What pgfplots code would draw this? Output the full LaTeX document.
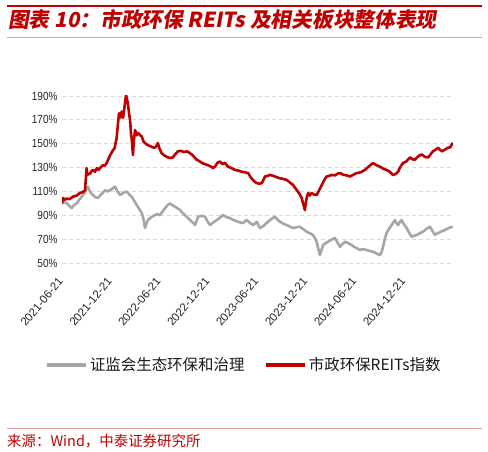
\documentclass[border=0pt]{standalone}
\usepackage{fontspec}
\setmainfont{Liberation Sans}
\newfontfamily\cjk{Noto Sans CJK SC}
\newfontfamily\cjktitle[FakeSlant=0.18]{Noto Sans CJK SC}
\newfontfamily\narrow[FakeStretch=0.85]{Liberation Sans}
\usepackage{pgfplots}
\pgfplotsset{compat=1.18}
\definecolor{reitred}{HTML}{C00000}
\definecolor{envgrey}{HTML}{A6A6A6}
\definecolor{gridgrey}{HTML}{D9D9D9}
\definecolor{titlered}{HTML}{C00000}
\definecolor{rulepink}{HTML}{E39A9A}

\begin{document}
\begin{tikzpicture}
\path[use as bounding box] (0bp,0bp) rectangle (488bp,452bp);
% header
\draw[titlered, line width=2.3bp] (7bp,446bp) -- (482bp,446bp);
\node[anchor=base west, inner sep=0, text=titlered, font=\fontsize{20.8}{20.8}\selectfont]
  at (8bp,424bp) {\cjktitle\bfseries 图表 {\bfseries\itshape 10}：市政环保 {\bfseries\itshape REITs} 及相关板块整体表现};
\draw[rulepink, line width=0.8bp] (7bp,414.5bp) -- (482bp,414.5bp);

\begin{axis}[
  at={(62bp,189bp)}, anchor=south west,
  width=391bp, height=167bp, scale only axis,
  xmin=0, xmax=1460, ymin=50, ymax=190,
  axis line style={draw=none},
  tick style={draw=none},
  ymajorgrids,
  grid style={gridgrey, line width=0.9bp, dash pattern=on 4bp off 3bp},
  ytick={50,70,90,110,130,150,170,190},
  yticklabels={50\%,70\%,90\%,110\%,130\%,150\%,170\%,190\%},
  yticklabel style={font=\narrow\fontsize{11.8}{11.8}\selectfont, text=black!85, xshift=-1bp},
  xtick={0,183,365,548,730,913,1096,1279},
  xticklabels={2021-06-21,2021-12-21,2022-06-21,2022-12-21,2023-06-21,2023-12-21,2024-06-21,2024-12-21},
  xticklabel style={xshift=-5bp, rotate=50, anchor=north east, font=\fontsize{11.5}{11.5}\selectfont, text=black!85},
  xticklabel shift=9bp,
  legend columns=2,
  legend style={at={(0.4655,-0.611)}, anchor=center, draw=none, fill=none,
    font=\cjk\fontsize{15.5}{15.5}\selectfont, text=black!90,
    /tikz/every even column/.append style={column sep=18bp}},
  legend image code/.code={\draw[#1, line width=3.5bp] (0bp,0bp) -- (39bp,0bp);},
]
\addplot[envgrey, line width=2.6bp, line join=round] coordinates {
(0,100) (8,101) (18,100) (27,98) (36,96) (45,98.5) (55,100) (64,103) (74,105.6) (85,109)
(92,112) (97,114) (104,110) (110,108) (116,107) (125,105) (134,104.5) (146,107.5) (161,111) (170,110)
(179,111) (189,112.5) (198,114) (207,110) (217,107) (230,109) (242,109.8) (251,107.5) (260,105.6) (270,102)
(279,98.6) (289,95) (298,91.9) (304,87) (310,79.3) (315,83) (321,86) (334,88.5) (347,90.2) (356,91)
(366,90.2) (375,93) (385,96) (394,98.5) (403,100) (412,98.5) (422,97.2) (431,96) (441,94.4) (450,92)
(459,90.2) (469,88) (478,86) (488,84) (497,81.8) (502,85) (508,88.8) (520,89.5) (534,88.8) (543,85)
(553,81.8) (565,84) (578,86) (590,88) (601,90.2) (614,88.5) (627,87.7) (640,86) (653,85) (665,84)
(676,83.5) (683,85) (690,86) (700,84) (713,81.8) (720,83) (727,84.6) (733,82) (739,79.3) (752,81)
(764,83.5) (777,86) (786,87.5) (795,88.8) (804,86.5) (814,84.6) (826,83) (839,81.8) (851,80.5) (863,79.3)
(876,80) (889,80.4) (900,78.5) (914,76.2) (925,75) (937,73.5) (944,71) (951,67.8) (957,62) (963,56.7)
(969,61) (975,65) (984,66.5) (993,67.8) (1006,69.5) (1019,71) (1029,67) (1038,63.6) (1048,66) (1057,67.8)
(1070,66.5) (1082,65) (1091,63.5) (1100,62.6) (1110,61) (1124,61.5) (1138,60.9) (1150,60) (1161,59.5) (1174,58)
(1187,56.7) (1193,59) (1199,63.6) (1205,70) (1212,75) (1222,79) (1231,81.8) (1237,84) (1243,86) (1249,83.5)
(1255,81.8) (1262,84.5) (1268,86) (1278,82) (1287,79.3) (1297,75) (1306,72) (1316,73) (1325,73.5) (1336,75)
(1348,76.2) (1360,78.5) (1374,80.4) (1383,77) (1393,73.5) (1398,74.5) (1404,75) (1417,76.5) (1430,77.7) (1445,79.5)
(1459,80.4)
};
\addlegendentry{证监会生态环保和治理}
\addplot[reitred, line width=2.6bp, line join=round] coordinates {
(0,100) (4,104.5) (10,103) (18,104) (28,103.5) (41,105.6) (55,106.5) (67,108.7) (78,109.5) (86,111)
(90,124) (92,129.6) (95,124) (105,125) (110,127) (116,128) (123,126.5) (130,129.6) (136,128) (142,129.6)
(148,131) (153,132) (160,131.5) (167,134) (173,137) (179,140) (184,142) (190,144.5) (196,146) (204,154.7)
(207,162) (209,167) (213,175.6) (218,172) (223,177) (228,171.6) (233,180) (239,191) (243,187) (246,184)
(250,176) (254,170) (258,158) (260,155) (263,146) (265,140.5) (268,152) (273,161.5) (278,157) (284,159)
(290,157.5) (298,156) (304,152) (310,150.6) (318,149) (329,148) (338,147) (347,146.6) (352,148) (358,150.6)
(364,146) (372,142) (380,140.5) (391,139) (402,138) (414,138.5) (422,141) (433,143.6) (445,144) (455,143)
(466,143.6) (475,142.5) (484,141) (493,139) (503,136.6) (512,135.5) (522,134) (532,133) (545,132) (555,131)
(564,129.6) (572,131) (580,134) (590,135) (600,133) (609,134) (615,132) (620,130.8) (633,129.5) (646,128)
(658,127.5) (671,126.5) (683,126) (695,125.4) (704,122) (713,119.6) (720,118) (727,117) (737,116.5) (746,117)
(752,119.5) (758,122.5) (767,123) (777,123.8) (790,123) (801,122) (814,121) (826,120.5) (839,119.6) (851,117.5)
(863,115.4) (872,112.5) (881,109.8) (888,107.5) (895,104.5) (900,100) (904,97) (907,94.4) (910,100) (914,105)
(919,108.7) (925,106.5) (932,108.7) (940,107.5) (951,107) (960,111) (970,115.4) (979,119.5) (988,122.5) (997,123)
(1007,123.8) (1020,123.5) (1030,125) (1038,125.4) (1050,124) (1062,123.5) (1075,122.5) (1088,124) (1100,125.4) (1115,126)
(1131,128) (1146,131) (1161,133.8) (1174,132) (1187,130.8) (1200,129) (1212,128) (1224,126.5) (1236,123.8) (1245,124.5)
(1255,126.5) (1262,130) (1273,133.8) (1285,135) (1299,138.5) (1308,137) (1318,136.6) (1330,139.5) (1343,141) (1355,139)
(1367,138.5) (1376,141) (1385,143.6) (1395,145) (1404,146.6) (1411,145) (1418,143.6) (1430,145) (1441,146.6) (1450,147)
(1459,150.8)
};
\addlegendentry{市政环保REITs指数}
\end{axis}

% footer
\draw[rulepink, line width=1bp] (7bp,23.5bp) -- (482bp,23.5bp);
\node[anchor=base west, inner sep=0, text=titlered, font=\cjk\fontsize{14.5}{14.5}\selectfont]
  at (7bp,6bp) {来源：Wind，中泰证券研究所};
\end{tikzpicture}
\end{document}
